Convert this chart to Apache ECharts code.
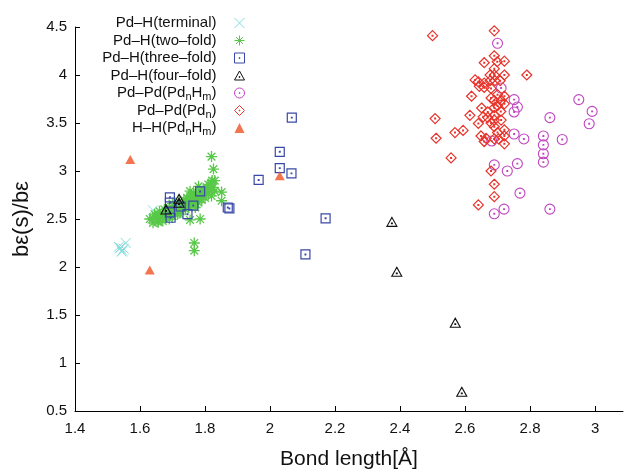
<!DOCTYPE html>
<html>
<head>
<meta charset="utf-8">
<script src="https://cdn.jsdelivr.net/npm/echarts@6/dist/echarts.min.js"></script>
<style>
  html, body { margin: 0; padding: 0; background: #fff; }
  #chart { width: 625px; height: 475px; }
</style>
</head>
<body>
<div id="chart"></div>
<script>
// Bond-length vs. strain-energy ratio, grouped by bond type

const seriesNames = [
  'Pd–H(terminal)', 'Pd–H(two–fold)', 'Pd–H(three–fold)', 'Pd–H(four–fold)',
  'Pd–Pd(PdnHm)', 'Pd–Pd(Pdn)', 'H–H(PdnHm)'
];

const xTicks = [1.4, 1.6, 1.8, 2.0, 2.2, 2.4, 2.6, 2.8, 3.0];

// [bond length (Å), bε(s)/bε]
const pdhTerminal = [
  [1.64, 2.59], [1.556, 2.25], [1.538, 2.195], [1.544, 2.16],
  [1.54, 2.20], [1.545, 2.17], [1.535, 2.21], [1.55, 2.19]
];

const pdhTwoFold = [
  [1.63, 2.50], [1.64, 2.46], [1.645, 2.55], [1.65, 2.52], [1.655, 2.47],
  [1.66, 2.58], [1.665, 2.50], [1.67, 2.54], [1.675, 2.60], [1.68, 2.52],
  [1.685, 2.57], [1.69, 2.62], [1.695, 2.55], [1.70, 2.60], [1.70, 2.66],
  [1.705, 2.58], [1.71, 2.63], [1.715, 2.55], [1.72, 2.62], [1.72, 2.68],
  [1.725, 2.58], [1.73, 2.65], [1.735, 2.70], [1.74, 2.60], [1.74, 2.67],
  [1.745, 2.72], [1.75, 2.63], [1.75, 2.69], [1.755, 2.74], [1.76, 2.66],
  [1.76, 2.71], [1.765, 2.77], [1.77, 2.62], [1.77, 2.69], [1.775, 2.74],
  [1.78, 2.67], [1.78, 2.72], [1.785, 2.78], [1.79, 2.70], [1.79, 2.75],
  [1.795, 2.80], [1.80, 2.72], [1.80, 2.78], [1.805, 2.83], [1.81, 2.76],
  [1.81, 2.86], [1.815, 2.80], [1.82, 2.88], [1.82, 2.74], [1.825, 2.83],
  [1.83, 2.90], [1.83, 2.79], [1.82, 3.15], [1.826, 3.02], [1.822, 2.90],
  [1.851, 2.78], [1.851, 2.69], [1.767, 2.25], [1.767, 2.17], [1.656, 2.47],
  [1.649, 2.53], [1.785, 2.50], [1.754, 2.49], [1.72, 2.56], [1.70, 2.53],
  [1.69, 2.50], [1.78, 2.84], [1.754, 2.79], [1.66, 2.54], [1.68, 2.56],
  [1.71, 2.59], [1.73, 2.61], [1.75, 2.66], [1.77, 2.72], [1.79, 2.78],
  [1.81, 2.81], [1.64, 2.51], [1.67, 2.48], [1.74, 2.64], [1.76, 2.74]
];

const pdhThreeFold = [
  [2.03, 3.20], [2.03, 3.03], [2.066, 2.975], [1.965, 2.907], [2.171, 2.507],
  [2.109, 2.131], [1.87, 2.62], [1.875, 2.61], [1.785, 2.787], [1.764, 2.64],
  [1.746, 2.55], [1.692, 2.726], [1.692, 2.67], [1.694, 2.513], [1.692, 2.57],
  [1.725, 2.63], [2.067, 3.556]
];

const pdhFourFold = [
  [2.375, 2.47], [2.39, 1.95], [2.57, 1.42], [2.59, 0.70],
  [1.68, 2.60], [1.72, 2.71], [1.72, 2.67]
];

const pdpdPdnHm = [
  [2.70, 4.33], [2.751, 3.744], [2.761, 3.666], [2.751, 3.615], [2.711, 3.864],
  [2.95, 3.744], [2.991, 3.621], [2.982, 3.492], [2.861, 3.556], [2.751, 3.385],
  [2.781, 3.334], [2.841, 3.365], [2.841, 3.272], [2.841, 3.18], [2.841, 3.092],
  [2.899, 3.328], [2.682, 3.313], [2.69, 3.064], [2.73, 3.0], [2.761, 3.077],
  [2.769, 2.77], [2.72, 2.603], [2.69, 2.554], [2.861, 2.603]
];

const pdpdPdn = [
  [2.69, 4.46], [2.50, 4.41], [2.69, 4.20], [2.659, 4.128], [2.699, 4.138],
  [2.721, 4.144], [2.69, 4.066], [2.79, 4.0], [2.721, 4.0], [2.677, 4.0],
  [2.69, 4.0], [2.631, 3.949], [2.641, 3.929], [2.677, 3.94], [2.692, 3.94],
  [2.708, 3.94], [2.644, 3.882], [2.659, 3.871], [2.659, 3.915], [2.62, 3.779],
  [2.70, 3.795], [2.721, 3.779], [2.69, 3.734], [2.711, 3.734], [2.721, 3.70],
  [2.651, 3.656], [2.69, 3.659], [2.67, 3.615], [2.615, 3.58], [2.656, 3.564],
  [2.67, 3.556], [2.69, 3.58], [2.69, 3.53], [2.711, 3.53], [2.641, 3.495],
  [2.69, 3.461], [2.721, 3.429], [2.721, 3.365], [2.649, 3.365], [2.659, 3.307],
  [2.69, 3.334], [2.703, 3.334], [2.721, 3.283], [2.569, 3.40], [2.557, 3.136],
  [2.68, 3.0], [2.69, 2.862], [2.69, 2.733], [2.641, 2.647], [2.508, 3.546],
  [2.511, 3.341], [2.594, 3.423], [2.68, 3.86], [2.70, 3.68], [2.68, 3.50],
  [2.70, 3.40], [2.665, 3.34], [2.71, 3.62], [2.68, 3.76]
];

const hhPdnHm = [
  [1.57, 3.12], [1.63, 1.97], [2.03, 2.95]
];

const seriesColors = ['#86dcdc', '#58c848', '#3848a8', '#111111', '#c046c0', '#e8332a', '#f05224'];

// Marker outlines drawn as stroked paths; the tiny inner square is the centre dot
const DOT = 'M4.6,4.6L5.4,4.6L5.4,5.4L4.6,5.4Z';
const SYM = {
  cross: 'path://M0,0L10,10M10,0L0,10',
  star: 'path://M5,0L5,10M0,5L10,5M1.5,1.5L8.5,8.5M8.5,1.5L1.5,8.5',
  square: 'path://M0,0L10,0L10,10L0,10Z' + DOT,
  triangle: 'path://M5,0L10,9L0,9Z M4.6,5.6L5.4,5.6L5.4,6.4L4.6,6.4Z',
  circle: 'path://M0,5A5,5 0 1,1 10,5A5,5 0 1,1 0,5Z' + DOT,
  diamond: 'path://M5,0L10,5L5,10L0,5Z' + DOT
};

const FONT = '"Liberation Sans", Arial, Helvetica, sans-serif';

function outlined(i, data, symbol, size, width) {
  return {
    name: seriesNames[i], type: 'scatter', data, symbol, symbolSize: size,
    itemStyle: { color: 'transparent', borderColor: seriesColors[i], borderWidth: width, opacity: 1 },
    emphasis: { disabled: true }
  };
}

const series = [
  outlined(0, pdhTerminal, SYM.cross, 10, 1),
  outlined(1, pdhTwoFold, SYM.star, 11, 1.3),
  outlined(2, pdhThreeFold, SYM.square, 9, 1.2),
  outlined(3, pdhFourFold, SYM.triangle, [10, 9], 1.1),
  outlined(4, pdpdPdnHm, SYM.circle, 10, 1.1),
  outlined(5, pdpdPdn, SYM.diamond, 10, 1.2),
  {
    name: seriesNames[6], type: 'scatter', data: hhPdnHm, symbol: 'triangle',
    symbolSize: [10, 9], itemStyle: { color: seriesColors[6] }, emphasis: { disabled: true }
  }
];

// Legend entries carry their own stroke so each key matches its series
const legendData = seriesNames.map((name, i) => ({
  name,
  itemStyle: i === 6
    ? { color: seriesColors[i], borderWidth: 0 }
    : { color: 'transparent', borderColor: seriesColors[i], borderWidth: 1 }
}));

const chart = echarts.init(document.getElementById('chart'), null, { renderer: 'canvas' });
chart.setOption({
  animation: false,
  backgroundColor: '#fff',
  textStyle: { fontFamily: FONT },
  grid: { left: 75, right: 2, top: 27, bottom: 58 },
  legend: {
    orient: 'vertical',
    align: 'right',
    right: 380,
    top: 13,
    padding: 0,
    itemWidth: 10,
    itemHeight: 10,
    itemGap: -2.5,
    selectedMode: false,
    data: legendData,
    formatter: (n) => n.replace(/Pdn/g, 'Pd{s|n}').replace(/Hm\)/g, 'H{s|m})'),
    textStyle: {
      fontFamily: FONT, fontSize: 15, color: '#111', lineHeight: 20,
      padding: [0, 13, 0, 0],
      rich: { s: { fontFamily: FONT, fontSize: 11, color: '#111', lineHeight: 12, padding: [8, 0, 0, 0] } }
    }
  },
  xAxis: {
    type: 'value', min: 1.4, max: 3.086,
    name: 'Bond length[Å]', nameLocation: 'middle', nameGap: 38,
    nameTextStyle: { fontFamily: FONT, fontSize: 21, color: '#111' },
    axisLine: { show: true, onZero: false, lineStyle: { color: '#000', width: 1 } },
    axisTick: { show: true, inside: true, length: 5, customValues: xTicks, lineStyle: { color: '#000' } },
    axisLabel: { customValues: xTicks, fontFamily: FONT, fontSize: 15, color: '#111', margin: 10 },
    splitLine: { show: false }
  },
  yAxis: {
    type: 'value', min: 0.5, max: 4.5, interval: 0.5,
    name: 'bε(s)/bε', nameLocation: 'middle', nameGap: 42,
    nameTextStyle: { fontFamily: FONT, fontSize: 22, color: '#111' },
    axisLine: { show: true, onZero: false, lineStyle: { color: '#000', width: 1 } },
    axisTick: { show: true, inside: true, length: 5, lineStyle: { color: '#000' } },
    axisLabel: { fontFamily: FONT, fontSize: 15, color: '#111', margin: 8 },
    splitLine: { show: false }
  },
  series
});
</script>
</body>
</html>
